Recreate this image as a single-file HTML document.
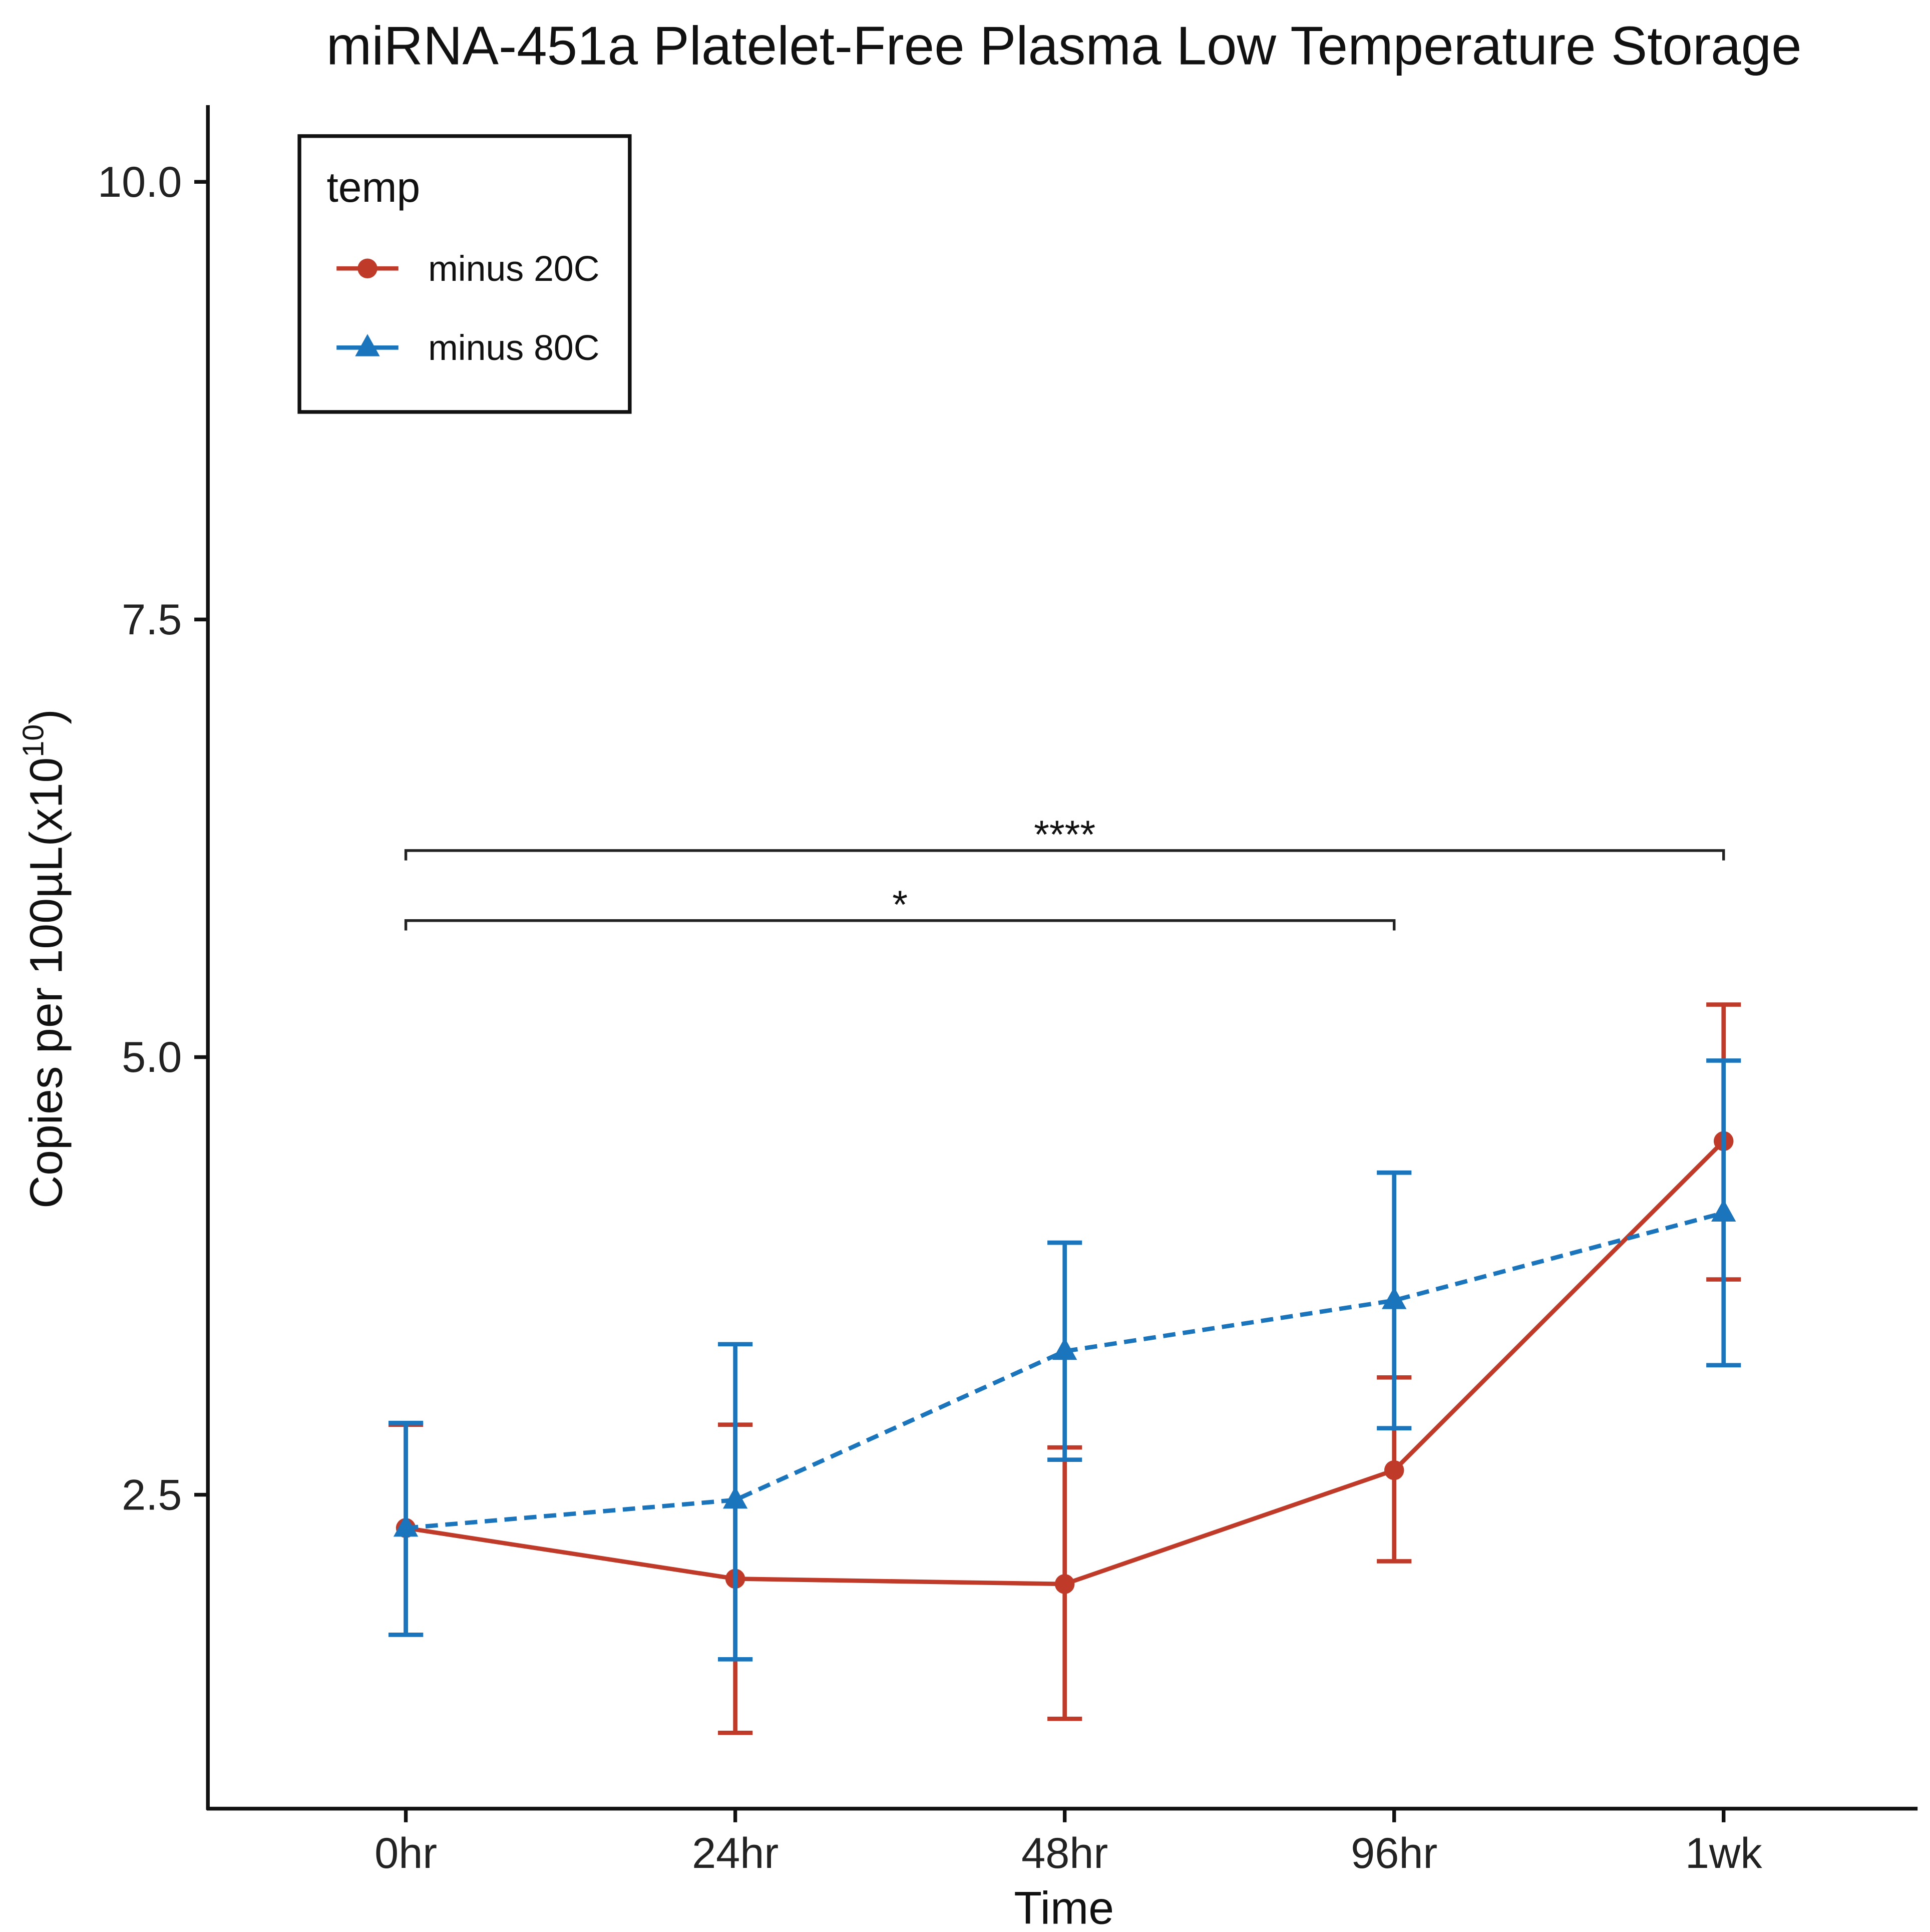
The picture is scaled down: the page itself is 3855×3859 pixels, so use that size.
<!DOCTYPE html>
<html><head><meta charset="utf-8">
<style>html,body{margin:0;padding:0;background:#fff}svg{display:block}text{font-family:"Liberation Sans",sans-serif}</style>
</head><body>
<svg id="chart" width="3855" height="3859" viewBox="0 0 1560 1561.7" xmlns="http://www.w3.org/2000/svg">
<rect width="1560" height="1561.7" fill="#fff"/>
<text x="860" y="52" font-size="44" text-anchor="middle" fill="#111">miRNA-451a Platelet-Free Plasma Low Temperature Storage</text>
<g id="axes"></g>
<g id="marks"></g>
<g>
<rect x="242" y="110" width="267" height="223" fill="#fff" stroke="#111" stroke-width="3"/>
<text x="264" y="163" font-size="34" fill="#111">temp</text>
<line x1="272" y1="217" x2="322" y2="217" stroke="#BF3A28" stroke-width="3.5"/>
<circle cx="297" cy="217" r="8" fill="#BF3A28"/>
<text x="346" y="227" font-size="29" fill="#111">minus 20C</text>
<line x1="272" y1="281" x2="322" y2="281" stroke="#1A75BC" stroke-width="3.5"/>
<polygon points="297,270 307,288 287,288" fill="#1A75BC"/>
<text x="346" y="291" font-size="29" fill="#111">minus 80C</text>
</g>
<script>
const categories=["0hr","24hr","48hr","96hr","1wk"];
const yTicks=[2.5,5.0,7.5,10.0];
const red=[2.31,2.02,1.99,2.64,4.52];
const redHi=[2.90,2.90,2.77,3.17,5.30];
const redLo=[1.70,1.14,1.22,2.12,3.73];
const blue=[2.31,2.47,3.32,3.61,4.11];
const blueHi=[2.91,3.36,3.94,4.34,4.98];
const blueLo=[1.70,1.56,2.70,2.88,3.24];
const brackets=[{from:0,to:4,y:6.18,label:"****"},{from:0,to:3,y:5.78,label:"*"}];
const NS="http://www.w3.org/2000/svg";
const X=i=>328+i*266.3;
const Y=v=>1562-v*141.5;
function mk(tag,attrs,parent){const e=document.createElementNS(NS,tag);for(const k in attrs)e.setAttribute(k,attrs[k]);parent.appendChild(e);return e;}
const axes=document.getElementById('axes'),marks=document.getElementById('marks');
let l=mk('line',{x1:168,y1:85,x2:168,y2:1463,stroke:'#111','stroke-width':3},axes);


l=mk('line',{x1:167,y1:1462,x2:1550,y2:1462,stroke:'#111','stroke-width':3},axes);


yTicks.forEach(v=>{mk('line',{x1:157,y1:Y(v),x2:168,y2:Y(v),stroke:'#111','stroke-width':3},axes);
const t=mk('text',{x:147,y:Y(v)+12,'font-size':35,'text-anchor':'end',fill:'#222'},axes);t.textContent=v.toFixed(1);

});
categories.forEach((c,i)=>{mk('line',{x1:X(i),y1:1462,x2:X(i),y2:1473,stroke:'#111','stroke-width':3},axes);
const t=mk('text',{x:X(i),y:1510,'font-size':35,'text-anchor':'middle',fill:'#222'},axes);t.textContent=c;

});
let t=mk('text',{x:860,y:1555,'font-size':37,'text-anchor':'middle',fill:'#111'},axes);t.textContent='Time';


t=mk('text',{transform:'translate(50,775) rotate(-90)','font-size':37,'text-anchor':'middle',fill:'#111'},axes);


mk('tspan',{},t).textContent='Copies per 100µL(x10';
mk('tspan',{'font-size':24,dy:-15},t).textContent='10';
mk('tspan',{dy:15},t).textContent=')';
brackets.forEach(b=>{const g=mk('g',{},marks);


mk('path',{d:`M${X(b.from)},${Y(b.y)+8}V${Y(b.y)}H${X(b.to)}V${Y(b.y)+8}`,fill:'none',stroke:'#222','stroke-width':2.2},g);
const s=mk('text',{x:(X(b.from)+X(b.to))/2,y:Y(b.y)-2,'font-size':32,'text-anchor':'middle',fill:'#111'},g);s.textContent=b.label;});
function series(vals,hi,lo,color,dash,shape,name){const g=mk('g',{},marks);


hi.forEach((h,i)=>{mk('path',{d:`M${X(i)},${Y(h)}V${Y(lo[i])}M${X(i)-14},${Y(h)}h28M${X(i)-14},${Y(lo[i])}h28`,stroke:color,'stroke-width':3.5,fill:'none'},g);});
mk('polyline',{points:vals.map((v,i)=>X(i)+','+Y(v)).join(' '),fill:'none',stroke:color,'stroke-width':3.5,'stroke-dasharray':dash},g);
vals.forEach((v,i)=>{let m;if(shape==='c')m=mk('circle',{cx:X(i),cy:Y(v),r:8,fill:color},g);
else m=mk('polygon',{points:`${X(i)},${Y(v)-11} ${X(i)+10},${Y(v)+7} ${X(i)-10},${Y(v)+7}`,fill:color},g);

});}
series(red,redHi,redLo,'#BF3A28','none','c','series-minus-20c');
series(blue,blueHi,blueLo,'#1A75BC','10 6','t','series-minus-80c');
</script>
</svg>
</body></html>
